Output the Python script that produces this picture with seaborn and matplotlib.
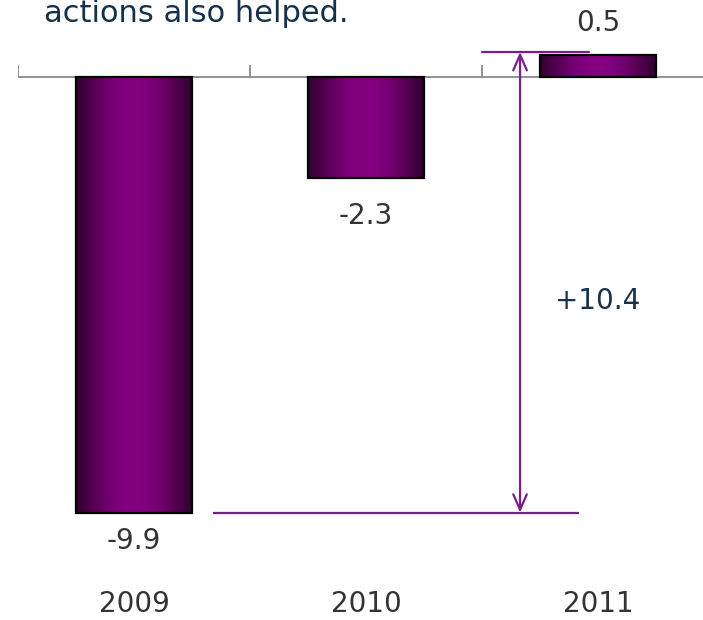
import numpy as np
import pandas as pd
import matplotlib
matplotlib.use("Agg")
import matplotlib.pyplot as plt
import matplotlib.transforms as mtransforms
from matplotlib.colors import LinearSegmentedColormap
import seaborn as sns

# Data
years = ["2009", "2010", "2011"]
values = [-9.9, -2.3, 0.5]
value_labels = ["-9.9", "-2.3", "0.5"]
change_label = "+10.4"
headline = "actions also helped."

sns.set_theme(style="white")
plt.rcParams["font.family"] = ["DejaVu Sans"]

W, H = 703, 620
fig = plt.figure(figsize=(W / 100, H / 100), dpi=100)
ax = fig.add_axes([18 / W, 1 - 583 / H, 696 / W, 583 / H])

df = pd.DataFrame({"year": years, "value": values})
sns.barplot(data=df, x="year", y="value", width=0.5, color="#800080",
            saturation=1, edgecolor="black", linewidth=1.6, ax=ax, zorder=3)

# horizontal shading inside each bar: dark edges, bright purple centre
dark, bright = np.array([0.20, 0.0, 0.19]), np.array([0.52, 0.0, 0.51])
t = np.linspace(0, 1, 256)
shape = np.sin(np.pi * t) ** 1.1
colors = [tuple(dark + (bright - dark) * s) for s in shape]
cmap = LinearSegmentedColormap.from_list("barshade", colors)
grad = np.linspace(0, 1, 256).reshape(1, -1)
for p in list(ax.patches):
    x0, y0 = p.get_x(), p.get_y()
    w, h = p.get_width(), p.get_height()
    im = ax.imshow(grad, extent=[x0, x0 + w, min(y0, y0 + h), max(y0, y0 + h)],
                   aspect="auto", cmap=cmap, interpolation="bicubic", zorder=3)
    im.set_clip_path(p)
    p.set_facecolor("none")
    p.set_zorder(4)

ax.set_xlim(-0.5, 2.5)
ax.set_ylim(-11.5, 1.75)

# zero line with category boundary ticks
axis_grey = "#8a8a8a"
ax.axhline(0, color=axis_grey, lw=1.3, zorder=2)
ax.vlines([-0.5, 0.5, 1.5], 0, 0.27, color=axis_grey, lw=1.3, zorder=2)

for s in ax.spines.values():
    s.set_visible(False)
ax.set_yticks([])
ax.set_xlabel("")
ax.set_ylabel("")
ax.tick_params(axis="x", length=0, pad=5, labelsize=20, labelcolor="#333333")

# value labels
offsets = [-28, -38, 32]
for i, (v, lbl) in enumerate(zip(values, value_labels)):
    ax.annotate(lbl, xy=(i, v), xytext=(0, offsets[i]), textcoords="offset pixels",
                ha="center", va="center", fontsize=20, color="#333333")

# change bracket between 2009 and 2011
ann = "#7a1e8e"
ax.hlines(values[0], 0.34, 1.92, color=ann, lw=1.6, zorder=5)
lift = mtransforms.offset_copy(ax.transData, fig=fig, x=0, y=3, units="dots")
ax.plot([1.5, 1.96], [values[2], values[2]], color=ann, lw=1.6, transform=lift, zorder=5)
ax.annotate("", xy=(1.664, values[2]), xytext=(1.664, values[0]),
            xycoords=lift, textcoords="data",
            arrowprops=dict(arrowstyle="<->,head_length=0.8,head_width=0.35",
                            color=ann, lw=1.6, shrinkA=0, shrinkB=0,
                            mutation_scale=14), zorder=5)
ax.text(2.0, -5.1, change_label, ha="center", va="center", fontsize=20, color="#17324d")

fig.text(44 / W, 1 - 22 / H, headline, ha="left", va="baseline",
         fontsize=22, color="#15304c")

fig.savefig("out.png", dpi=100)
